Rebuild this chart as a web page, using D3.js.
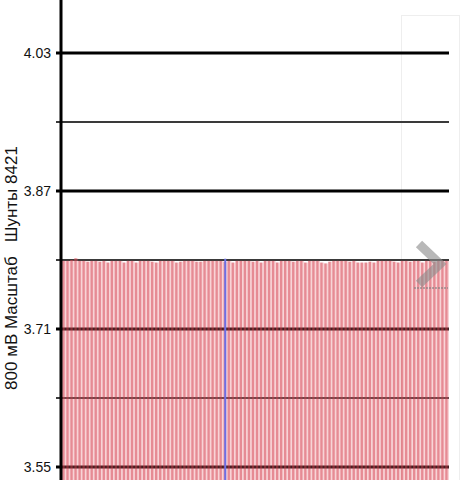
<!DOCTYPE html>
<html><head><meta charset="utf-8">
<script src="https://cdn.jsdelivr.net/npm/d3@7"></script>
<style>html,body{margin:0;padding:0;background:#fff;overflow:hidden}</style>
</head><body>
<svg id="c" width="462" height="480"></svg>
<script>
const tickValues = [4.03, 3.95, 3.87, 3.79, 3.71, 3.63, 3.55];
const tickLabels = ["4.03", "", "3.87", "", "3.71", "", "3.55"];
const axisTitle = "800 мВ Масштаб   Шунты 8421";
const values = [
 3.789,3.789,3.790,3.792,3.789,3.789,3.788,3.789,3.789,3.788,3.789,3.787,3.789,3.789,3.789,3.787,3.789,3.789,3.787,3.789,3.789,3.789,3.788,3.787,
 3.789,3.789,3.789,3.789,3.787,3.788,3.789,3.789,3.789,3.788,3.788,3.789,3.789,3.789,3.789,3.789,3.788,3.789,3.787,3.789,3.789,3.789,3.789,3.788,
 3.789,3.787,3.789,3.789,3.789,3.787,3.789,3.789,3.789,3.788,3.789,3.789,3.787,3.789,3.789,3.789,3.787,3.786,3.788,3.789,3.789,3.789,3.789,3.788,
 3.789,3.787,3.787,3.787,3.788,3.787,3.789,3.789,3.789,3.789,3.788,3.787,3.789,3.789,3.788,3.789,3.789,3.787,3.789,3.789,3.788,3.789,3.789,3.789
];
const cursorIndex = 40;

const svg = d3.select("#c");
const W = 462, H = 480;
const x0 = 61, x1 = 449;
const y = d3.scaleLinear().domain([3.55, 4.03]).range([467, 53]);
const x = d3.scaleBand().domain(d3.range(values.length)).range([x0 + 1, x1]).paddingInner(0).paddingOuter(0);

// right side panel
svg.append("rect").attr("x", 401.5).attr("y", 15.5).attr("width", 58).attr("height", H)
  .attr("fill", "#fff").attr("stroke", "#eeeeee").attr("stroke-width", 1);

// gridlines
svg.append("g").selectAll("line").data(tickValues).join("line")
  .attr("x1", x0 - 5).attr("x2", x1)
  .attr("y1", d => y(d)).attr("y2", d => y(d))
  .attr("stroke", (d, i) => tickLabels[i] ? "#000" : "#3a3a3a")
  .attr("stroke-width", (d, i) => tickLabels[i] ? 3 : 2);

// bars
const bars = svg.append("g");
bars.selectAll("rect.o").data(values).join("rect").attr("class", "o")
  .attr("x", (d, i) => x(i)).attr("width", x.bandwidth())
  .attr("y", d => y(d)).attr("height", d => H - y(d))
  .attr("fill", "rgba(232,110,120,0.30)");
bars.selectAll("rect.i").data(values).join("rect").attr("class", "i")
  .attr("x", (d, i) => x(i) + 0.3).attr("width", x.bandwidth() * 0.58)
  .attr("y", d => y(d)).attr("height", d => H - y(d))
  .attr("fill", "rgba(212,60,75,0.48)");

// cursor
svg.append("line")
  .attr("x1", x(cursorIndex) + x.bandwidth() / 2).attr("x2", x(cursorIndex) + x.bandwidth() / 2)
  .attr("y1", y(values[cursorIndex]) - 3).attr("y2", H)
  .attr("stroke", "#6b6fe6").attr("stroke-width", 2);

// axis line
svg.append("line").attr("x1", x0).attr("x2", x0).attr("y1", 0).attr("y2", H)
  .attr("stroke", "#000").attr("stroke-width", 3);

// tick labels
svg.append("g").selectAll("text").data(tickValues).join("text")
  .attr("x", 51).attr("y", d => y(d)).attr("dy", "0.35em")
  .attr("text-anchor", "end")
  .attr("font-family", "Liberation Sans, Arial, sans-serif").attr("font-size", 14)
  .attr("fill", "#111")
  .text((d, i) => tickLabels[i]);

// axis title
svg.append("text")
  .attr("transform", "translate(17,268) rotate(-90)")
  .attr("text-anchor", "middle")
  .attr("font-family", "Liberation Sans, Arial, sans-serif").attr("font-size", 17)
  .attr("fill", "#111")
  .attr("xml:space", "preserve")
  .style("white-space", "pre")
  .text(axisTitle);

// chevron
svg.append("path")
  .attr("d", "M419,244 L440,264 L419,284")
  .attr("fill", "none").attr("stroke", "rgba(140,140,140,0.62)").attr("stroke-width", 9)
  .attr("stroke-linecap", "butt");
svg.append("line").attr("x1", 414).attr("x2", 448).attr("y1", 288).attr("y2", 288)
  .attr("stroke", "rgba(130,130,130,0.6)").attr("stroke-width", 2).attr("stroke-dasharray", "2,1");
</script>
</body></html>
